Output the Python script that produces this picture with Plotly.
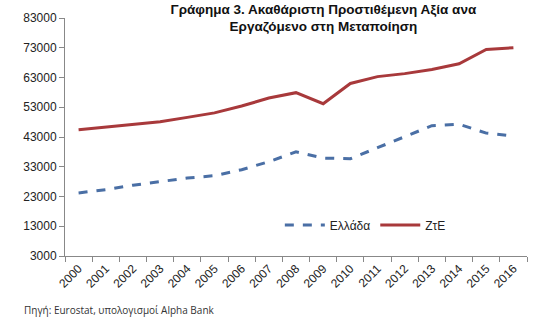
import plotly.graph_objects as go

years = [str(y) for y in range(2000, 2017)]
greece = [24200, 25300, 26800, 27900, 29200, 30000, 32000, 34700, 38000, 35900, 35700, 39400, 43000, 46800, 47300, 44300, 43300]
eu = [45400, 46300, 47100, 48100, 49600, 51100, 53400, 56100, 57900, 54200, 61000, 63300, 64300, 65700, 67600, 72400, 73000]
yticks = [3000, 13000, 23000, 33000, 43000, 53000, 63000, 73000, 83000]
yticklabels = [str(v) for v in yticks]

fig = go.Figure()
fig.add_trace(go.Scatter(x=years, y=greece, mode="lines", name="Ελλάδα",
                         line=dict(color="#4A6FA5", width=3, dash="dash")))
fig.add_trace(go.Scatter(x=years, y=eu, mode="lines", name="ΖτΕ",
                         line=dict(color="#A8393B", width=3)))

fig.update_layout(
    width=539, height=325,
    margin=dict(l=65, r=12, t=18, b=69),
    paper_bgcolor="white", plot_bgcolor="white",
    font=dict(family="Liberation Sans, Arial, sans-serif", size=12, color="#222"),
    title=dict(text="<b>Γράφημα 3. Ακαθάριστη Προστιθέμενη Αξία ανα<br>Εργαζόμενο στη Μεταποίηση</b>",
               x=0.6, xanchor="center", y=0.958, yanchor="top",
               font=dict(size=13.5, color="#111")),
    showlegend=True,
    legend=dict(orientation="h", x=0.465, y=0.13, xanchor="left", yanchor="middle",
                bgcolor="rgba(0,0,0,0)", font=dict(size=12), itemwidth=40),
    xaxis=dict(type="category", range=[-0.5, len(years) - 0.5], showgrid=False, showline=True,
               linecolor="#888", ticks="outside", tickson="boundaries", ticklen=5, tickcolor="#888",
               tickangle=-45, tickfont=dict(size=12)),
    yaxis=dict(range=[3000, 83000], tickvals=yticks, ticktext=yticklabels, showgrid=False,
               showline=True, linecolor="#888", ticks="outside", ticklen=5, tickcolor="#888",
               tickfont=dict(size=12), zeroline=False),
)
fig.add_annotation(text="Πηγή: Eurostat, υπολογισμοί Alpha Bank", xref="paper", yref="paper",
                   x=-0.093, y=-0.19, xanchor="left", yanchor="top", showarrow=False,
                   font=dict(size=10, color="#333", family="Open Sans, sans-serif"))
fig.write_html("out.html")
